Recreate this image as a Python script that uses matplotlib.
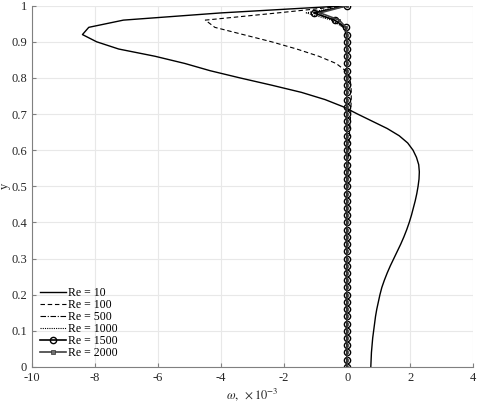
import numpy as np
import matplotlib
matplotlib.use("Agg")
import matplotlib.pyplot as plt

plt.rcParams['font.family'] = ['Liberation Serif', 'DejaVu Serif']
plt.rcParams['mathtext.fontset'] = 'stix'
plt.rcParams['axes.unicode_minus'] = False

# y grid, step 0.02
y = np.linspace(0, 1, 51)

re_labels = ['Re = 10', 'Re = 100', 'Re = 500', 'Re = 1000', 'Re = 1500', 'Re = 2000']

# omega values (x1e-3), from y=0 up to y=1
w_re10 = [0.75, 0.76, 0.77, 0.79, 0.81, 0.84, 0.87, 0.90, 0.94, 0.99,
          1.04, 1.10, 1.18, 1.27, 1.37, 1.48, 1.59, 1.70, 1.80, 1.89,
          1.97, 2.04, 2.10, 2.16, 2.21, 2.25, 2.28, 2.29, 2.27, 2.20,
          2.09, 1.92, 1.65, 1.27, 0.80, 0.33, -0.12, -0.70, -1.45, -2.40,
          -3.40, -4.35, -5.15, -6.10, -7.25, -7.95, -8.40, -8.20, -7.10, -4.00,
          0.0]
w_re100 = [0.0, 0.0, 0.0, 0.0, 0.0, 0.0, 0.0, 0.0, 0.0, 0.0,
           0.0, 0.0, 0.0, 0.0, 0.0, 0.0, 0.0, 0.0, 0.0, 0.0,
           0.01, 0.01, 0.01, 0.01, 0.01, 0.02, 0.02, 0.03, 0.03, 0.04,
           0.05, 0.06, 0.07, 0.08, 0.10, 0.11, 0.12, 0.13, 0.13, 0.12,
           0.08, -0.05, -0.35, -0.90, -1.60, -2.40, -3.30, -4.20, -4.50, -2.20,
           0.0]
w_re500 = [0.0] * 45 + [-0.01, -0.03, -0.12, -0.40, -1.05, -1.90, 0.0]
w_re500 = w_re500[:50] + [0.0]
w_re1000 = [0.0] * 46 + [-0.02, -0.12, -0.50, -1.30, 0.0]
w_re1500 = [0.0] * 47 + [-0.05, -0.40, -1.06, 0.0]
w_re2000 = [0.0] * 47 + [-0.04, -0.25, -0.86, 0.0]

fig, ax = plt.subplots(figsize=(4.78, 4.05), dpi=100)
fig.subplots_adjust(left=0.067, right=0.99, bottom=0.094, top=0.986)

ax.plot(w_re10, y, color='black', linewidth=1.0, label=re_labels[0])
ax.plot(w_re100, y, color='black', linewidth=0.8, linestyle=(0, (4, 2.5)), label=re_labels[1])
ax.plot(w_re500, y, color='black', linewidth=0.8, linestyle=(0, (5, 1.5, 1, 1.5)), label=re_labels[2])
ax.plot(w_re1000, y, color='black', linewidth=0.8, linestyle=(0, (1, 1)), label=re_labels[3])
ax.plot(w_re1500, y, color='black', linewidth=1.2, marker='o', markersize=4.5,
        markerfacecolor='none', markeredgewidth=1.0, label=re_labels[4])
ax.plot(w_re2000, y, color='#404040', linewidth=1.2, marker='s', markersize=1.6,
        markerfacecolor='#404040', markeredgecolor='#303030', markeredgewidth=0.5,
        label=re_labels[5])

ax.set_xlim(-10, 4)
ax.set_ylim(0, 1)
ax.set_xticks(np.arange(-10, 5, 2))
ax.set_yticks(np.arange(0, 1.01, 0.1))
ax.set_yticklabels(['0', '0.1', '0.2', '0.3', '0.4', '0.5', '0.6', '0.7', '0.8', '0.9', '1'])
ax.grid(True, color='#e8e8e8', linewidth=0.8)
ax.set_axisbelow(True)

for side in ['top', 'right']:
    ax.spines[side].set_visible(False)
for side in ['left', 'bottom']:
    ax.spines[side].set_color('#808080')
    ax.spines[side].set_linewidth(0.8)
ax.tick_params(direction='in', length=3, color='#808080', labelsize=9, labelcolor='#262626')
ax.tick_params(axis='x', pad=4)

ax.set_xlabel(r'$\omega,\ \times10^{-3}$', fontsize=9, color='#262626', labelpad=1)
ax.set_ylabel('y', fontsize=9, color='#262626', labelpad=0)

leg = ax.legend(loc='lower left', frameon=False, fontsize=8.5, handlelength=2.2,
                handletextpad=0.15, labelspacing=0.0, borderaxespad=0.3,
                bbox_to_anchor=(0.0, 0.0))
# bigger, lighter square in the legend than on the plot
leg.get_lines()[5].set_markersize(3.5)
leg.get_lines()[5].set_markerfacecolor('#707070')

fig.savefig('out.png', dpi=100)
